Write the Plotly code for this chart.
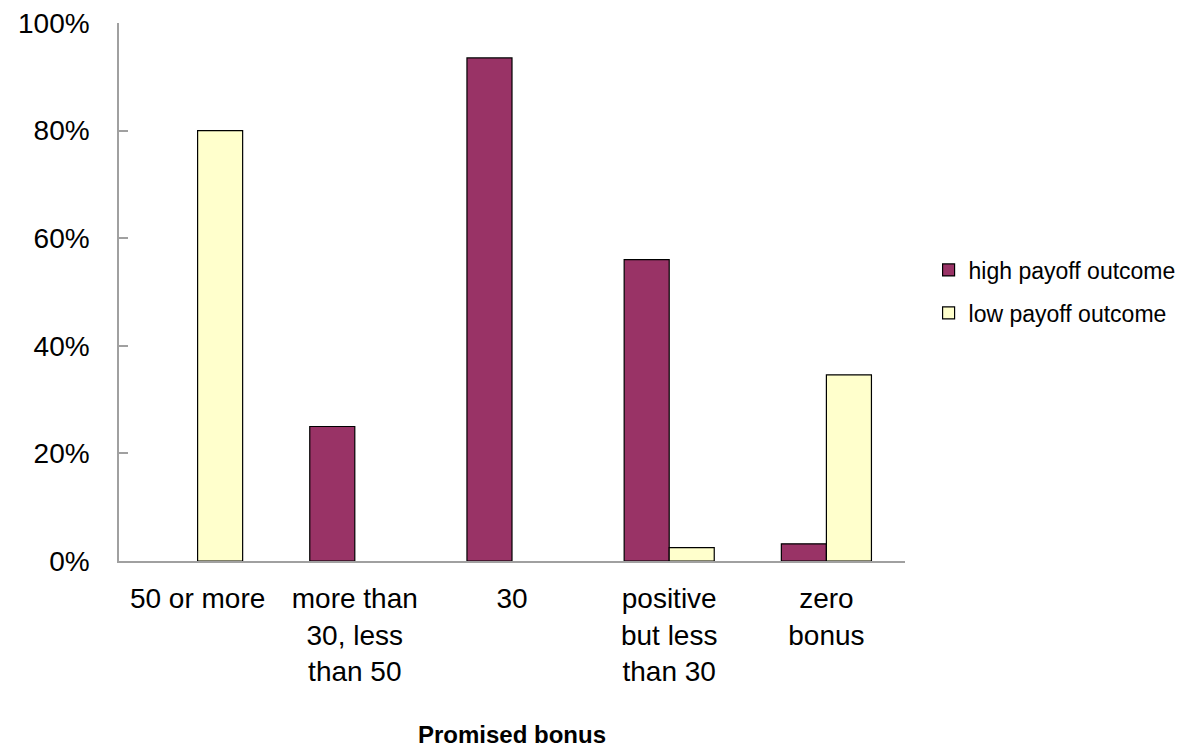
import plotly.graph_objects as go

categories = ["50 or more", "more than<br>30, less<br>than 50", "30",
              "positive<br>but less<br>than 30", "zero<br>bonus"]
# None marks a category with no bar for that outcome
high_payoff = [None, 25, 93.5, 56, 3.2]
low_payoff = [80, None, None, 2.5, 34.6]
y_ticks = [0, 20, 40, 60, 80, 100]
y_tick_text = ["0%", "20%", "40%", "60%", "80%", "100%"]

FONT = "Liberation Sans, Arial, sans-serif"

fig = go.Figure()
fig.add_trace(go.Bar(
    x=categories, y=high_payoff, name="high payoff outcome",
    marker=dict(color="#993366", line=dict(color="#000000", width=1.2)),
    legend="legend", showlegend=True,
))
fig.add_trace(go.Bar(
    x=categories, y=low_payoff, name="low payoff outcome",
    marker=dict(color="#FFFFCC", line=dict(color="#000000", width=1.2)),
    legend="legend2", showlegend=True,
))

legend_common = dict(
    font=dict(family=FONT, size=23, color="#000000"),
    bgcolor="rgba(0,0,0,0)", borderwidth=0,
    xanchor="left", yanchor="middle",
    itemwidth=30, tracegroupgap=0, visible=True,
)

fig.update_layout(
    width=1197, height=750,
    margin=dict(l=119, r=292, t=23, b=189, autoexpand=False),
    paper_bgcolor="#ffffff", plot_bgcolor="#ffffff",
    showlegend=True,
    barmode="group", bargap=0.427, bargroupgap=0,
    font=dict(family=FONT, color="#000000"),
    legend=dict(x=1.03, y=(561 - 270) / 538, **legend_common),
    legend2=dict(x=1.03, y=(561 - 313) / 538, **legend_common),
    xaxis=dict(
        automargin=False,
        showline=True, linecolor="#a0a0a0", linewidth=1.5,
        ticks="", showgrid=False,
        tickfont=dict(family=FONT, size=28, color="#000000"),
        ticklabelstandoff=12,
        title=dict(text="<b>Promised bonus</b>",
                   font=dict(family=FONT, size=24, color="#000000"),
                   standoff=40),
    ),
    yaxis=dict(
        automargin=False,
        range=[0, 100], tickvals=y_ticks, ticktext=y_tick_text,
        showline=True, linecolor="#a0a0a0", linewidth=1.5,
        ticks="inside", ticklen=9, tickcolor="#a0a0a0", tickwidth=1.5,
        showgrid=False, zeroline=False,
        tickfont=dict(family=FONT, size=28, color="#000000"),
        ticklabelstandoff=22,
    ),
)

fig.write_html("out.html")
